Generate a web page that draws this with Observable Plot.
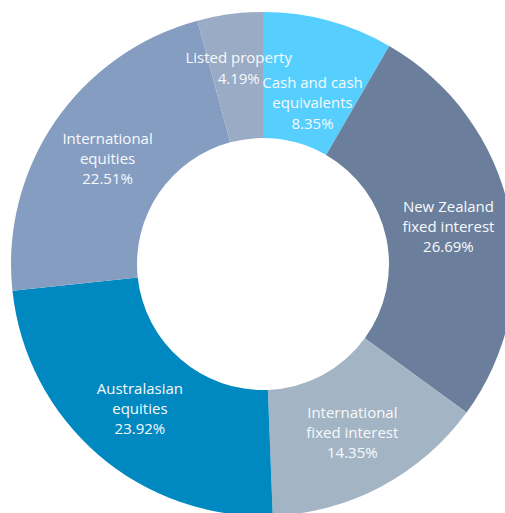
<!DOCTYPE html>
<html>
<head>
<meta charset="utf-8">
<script src="https://cdn.jsdelivr.net/npm/d3@7"></script>
<script src="https://cdn.jsdelivr.net/npm/@observablehq/plot@0.6"></script>
<style>
  html, body { margin: 0; padding: 0; background: #fff; overflow: hidden; }
</style>
</head>
<body>
<div id="chart"></div>
<script>
const categories = [
  "Cash and cash\nequivalents",
  "New Zealand\nfixed interest",
  "International\nfixed interest",
  "Australasian\nequities",
  "International\nequities",
  "Listed property"
];
const values = [8.35, 26.69, 14.35, 23.92, 22.51, 4.19];
const colors = ["#56cfff", "#6b7f9d", "#a3b5c5", "#0088c0", "#869dc2", "#9aabc6"];

const data = categories.map((c, i) => ({name: c, value: values[i], color: colors[i]}));
const pie = d3.pie().value(d => d.value).sort(null)(data);

const innerFrac = 0.5;
// label nudges (pixels) for the two narrow slices
const nudge = {0: [0, 20], 5: [0, -10]};

const labels = pie.map((p, i) => {
  const a = (p.startAngle + p.endAngle) / 2;
  const r = (1 + innerFrac) / 2;
  return {
    x: r * Math.sin(a),
    y: r * Math.cos(a),
    text: p.data.name + "\n" + p.data.value.toFixed(2) + "%",
    dx: (nudge[i] || [0, 0])[0],
    dy: (nudge[i] || [0, 0])[1]
  };
});

function slices(index, scales) {
  const cx = scales.x(0), cy = scales.y(0);
  const R = Math.abs(scales.x(1) - scales.x(0));
  const arc = d3.arc().innerRadius(R * innerFrac).outerRadius(R);
  const g = d3.create("svg:g").attr("transform", `translate(${cx},${cy})`);
  g.selectAll("path").data(pie).join("path")
    .attr("d", arc)
    .attr("fill", d => d.data.color);
  return g.node();
}

const chart = Plot.plot({
  width: 505,
  height: 513,
  margin: 0,
  x: {domain: [-1, 1], range: [11, 515], axis: null},
  y: {domain: [-1, 1], range: [516, 12], axis: null},
  style: {background: "#fff", fontFamily: "'Open Sans', 'Noto Sans', sans-serif"},
  marks: [
    slices,
    ...labels.map(l => Plot.text([l], {
      x: "x", y: "y", text: "text",
      dx: l.dx, dy: l.dy,
      fill: "#f7fafc",
      fontSize: 15,
      lineHeight: 1.35,
      textAnchor: "middle"
    }))
  ]
});
document.getElementById("chart").appendChild(chart);
</script>
</body>
</html>
